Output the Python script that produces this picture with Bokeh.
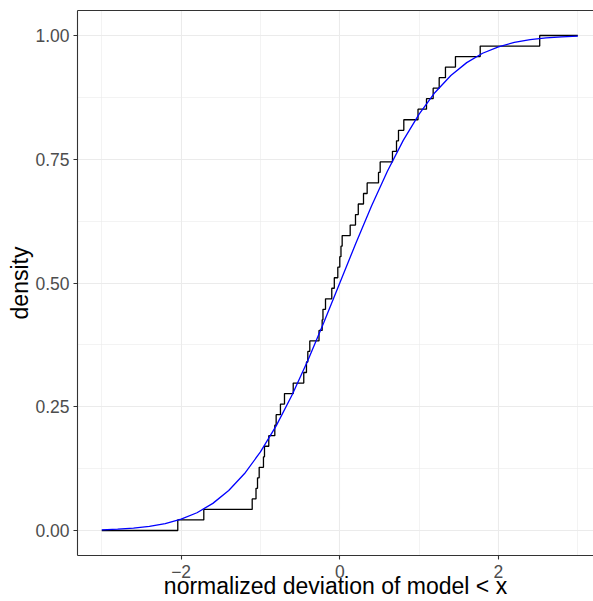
from bokeh.plotting import figure
from bokeh.models import FixedTicker, LinearAxis, Range1d
from bokeh.embed import file_html
from bokeh.resources import INLINE

# sorted normalized deviations (ECDF jump locations)
deviations = [-2.042, -1.714, -1.104, -1.056, -1.037, -1.016, -0.962, -0.949,
              -0.895, -0.819, -0.802, -0.748, -0.697, -0.587, -0.454, -0.420,
              -0.403, -0.378, -0.262, -0.222, -0.212, -0.180, -0.101, -0.069,
              -0.025, 0.000, 0.015, 0.030, 0.131, 0.198, 0.233, 0.299,
              0.345, 0.488, 0.509, 0.664, 0.715, 0.740, 0.807, 0.986,
              1.093, 1.177, 1.253, 1.332, 1.458, 1.770, 2.520]
x_lo, x_hi = -3.0, 3.0

# reference (blue) curve, read at regular x positions
curve_x = [-3.0, -2.8, -2.6, -2.4, -2.2, -2.0, -1.8, -1.6, -1.4, -1.2, -1.0,
           -0.8, -0.6, -0.4, -0.2, 0.0, 0.2, 0.4, 0.6, 0.8, 1.0,
           1.2, 1.4, 1.6, 1.8, 2.0, 2.2, 2.4, 2.6, 2.8, 3.0]
curve_y = [0.0013, 0.0026, 0.0047, 0.0082, 0.0139, 0.0228, 0.0359, 0.0548,
           0.0808, 0.1151, 0.1587, 0.2119, 0.2743, 0.3446, 0.4207, 0.5000,
           0.5793, 0.6554, 0.7257, 0.7881, 0.8413, 0.8849, 0.9192, 0.9452,
           0.9641, 0.9772, 0.9861, 0.9918, 0.9953, 0.9974, 0.9987]

x_major = [-2, 0, 2]
x_minor = [-3, -1, 1, 3]
x_labels = {-2: "\u22122", 0: "0", 2: "2"}
y_major = [0.0, 0.25, 0.5, 0.75, 1.0]
y_minor = [0.125, 0.375, 0.625, 0.875]
y_labels = {0.0: "0.00", 0.25: "0.25", 0.5: "0.50", 0.75: "0.75", 1.0: "1.00"}

n = len(deviations)
ecdf_x = [x_lo] + deviations + [x_hi]
ecdf_y = [0.0] + [(i + 1) / n for i in range(n)] + [1.0]

FONT = "Liberation Sans"
BORDER = "#333333"
GRID = "#EBEBEB"

p = figure(width=593, height=601,
           x_range=Range1d(-3.306, 3.198), y_range=Range1d(-0.0505, 1.0505),
           output_backend="svg", toolbar_location=None,
           min_border_left=77, min_border_right=0, min_border_top=10,
           min_border_bottom=46)
p.background_fill_color = "white"
p.border_fill_color = "white"
p.outline_line_color = None

p.xaxis.ticker = FixedTicker(ticks=x_major, minor_ticks=x_minor)
p.yaxis.ticker = FixedTicker(ticks=y_major, minor_ticks=y_minor)
p.xaxis.major_label_overrides = x_labels
p.yaxis.major_label_overrides = y_labels

for ax in (p.xaxis[0], p.yaxis[0]):
    ax.axis_line_color = BORDER
    ax.axis_line_width = 1.1
    ax.major_tick_line_color = BORDER
    ax.major_tick_line_width = 1.1
    ax.major_tick_in = 0
    ax.major_tick_out = 4
    ax.minor_tick_line_color = None
    ax.major_label_text_font = FONT
    ax.major_label_text_font_size = "17.5px"
    ax.major_label_text_color = "#4D4D4D"
    ax.axis_label_text_font = FONT
    ax.axis_label_text_font_size = "23px"
    ax.axis_label_text_font_style = "normal"
    ax.axis_label_text_color = "black"

p.xaxis.major_label_standoff = 5
p.xaxis.axis_label_standoff = -8
p.yaxis.major_label_standoff = 4
p.yaxis.axis_label_standoff = -1

p.xaxis.axis_label = "normalized deviation of model < x"
p.yaxis.axis_label = "density"

top = LinearAxis(ticker=FixedTicker(ticks=[]), major_tick_out=0, major_tick_in=0,
                 minor_tick_line_color=None, major_label_text_font_size="0px",
                 axis_line_color=BORDER, axis_line_width=1.1)
p.add_layout(top, "above")

for g in (p.xgrid[0], p.ygrid[0]):
    g.grid_line_color = GRID
    g.grid_line_width = 1.1
    g.minor_grid_line_color = GRID
    g.minor_grid_line_width = 0.6

p.step(ecdf_x, ecdf_y, mode="after", line_color="black", line_width=1.3)
p.line(curve_x, curve_y, line_color="blue", line_width=1.3)

open("out.html", "w").write(file_html(p, INLINE))
